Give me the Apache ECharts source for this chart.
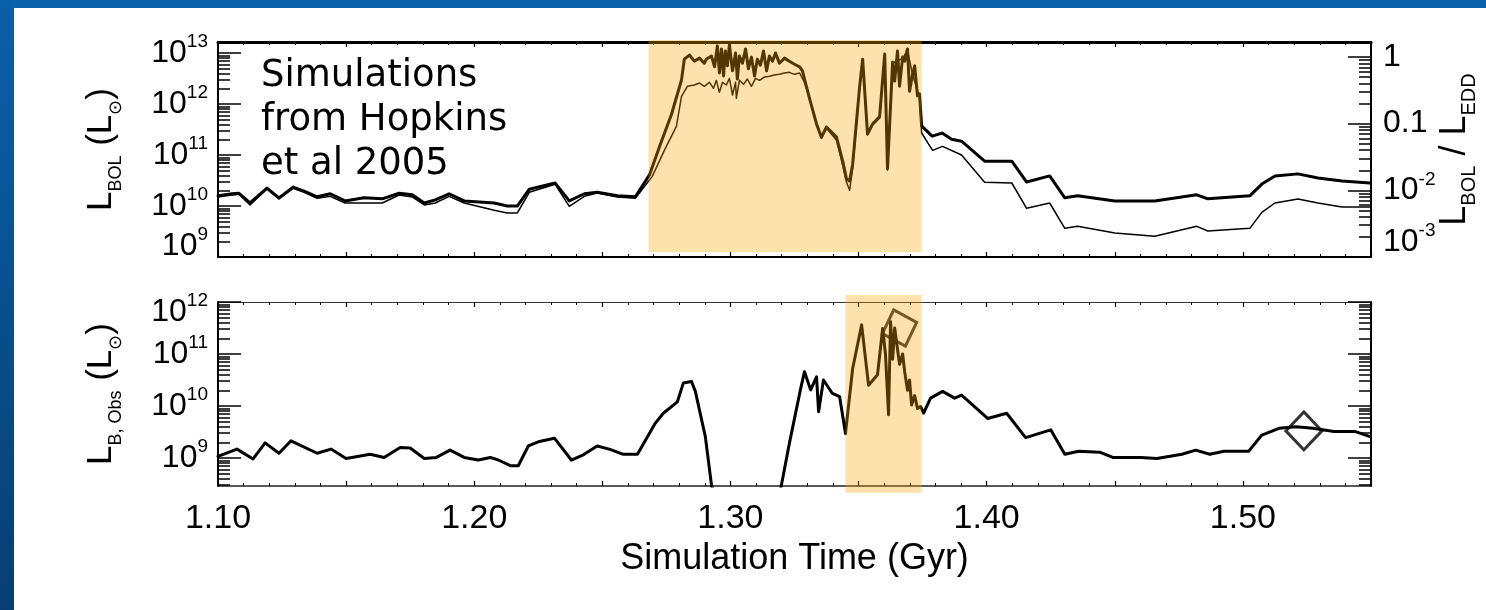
<!DOCTYPE html>
<html>
<head>
<meta charset="utf-8">
<script src="https://cdn.jsdelivr.net/npm/echarts@6/dist/echarts.min.js"></script>
<style>
  html, body { margin: 0; padding: 0; background: #fff; }
  #chart { width: 1486px; height: 610px; }
</style>
</head>
<body>
<div id="chart"></div>
<script>
// Luminosity histories of the merger simulation, stored as log10 values.

// Bolometric luminosity L_BOL (L_sun), thick curve, left axis of the upper panel
const lbolTime = [
  1.1000,1.1055,1.1082,1.1125,1.1191,1.1238,1.1293,1.1336,1.1387,1.1438,
  1.1496,1.1570,1.1641,1.1707,1.1758,1.1805,1.1848,1.1902,1.1961,1.2078,
  1.2129,1.2168,1.2215,1.2316,1.2371,1.2430,1.2480,1.2559,1.2629,1.2684,
  1.2723,1.2770,1.2809,1.2820,1.2840,1.2859,1.2879,1.2898,1.2906,1.2926,
  1.2938,1.2949,1.2957,1.2965,1.2973,1.2980,1.2988,1.2996,1.3008,1.3020,
  1.3027,1.3035,1.3047,1.3059,1.3070,1.3082,1.3094,1.3105,1.3117,1.3129,
  1.3141,1.3152,1.3164,1.3176,1.3191,1.3211,1.3230,1.3250,1.3270,1.3281,
  1.3293,1.3309,1.3336,1.3355,1.3375,1.3414,1.3438,1.3453,1.3465,1.3477,
  1.3504,1.3516,1.3535,1.3555,1.3582,1.3602,1.3613,1.3633,1.3641,1.3652,
  1.3660,1.3672,1.3680,1.3691,1.3699,1.3711,1.3719,1.3730,1.3738,1.3746,
  1.3787,1.3826,1.3863,1.3902,1.3992,1.4098,1.4156,1.4246,1.4305,1.4355,
  1.4500,1.4656,1.4820,1.4863,1.5027,1.5074,1.5125,1.5215,1.5293,1.5387,
  1.5496
];
const lbolLog = [
  10.20,10.24,10.25,10.06,10.35,10.16,10.37,10.29,10.18,10.24,
  10.10,10.16,10.14,10.25,10.22,10.06,10.12,10.24,10.10,10.06,
  10.00,10.00,10.33,10.45,10.10,10.24,10.27,10.20,10.18,10.61,
  11.16,11.80,12.47,12.88,12.96,12.84,12.90,12.80,12.88,12.94,
  12.73,13.14,12.61,13.08,12.55,13.04,12.75,13.16,12.65,13.00,
  12.49,12.94,12.80,13.08,12.69,12.92,12.55,12.88,12.76,13.04,
  12.65,12.94,12.84,13.00,12.80,12.90,12.84,12.78,12.73,12.65,
  12.41,12.10,11.61,11.35,11.55,11.35,10.88,10.53,10.49,10.82,
  12.33,12.88,11.41,11.61,11.75,12.98,10.73,12.82,12.45,13.04,
  12.35,12.92,12.84,13.08,12.25,12.59,12.75,12.16,12.20,11.57,
  11.37,11.43,11.31,11.27,10.88,10.88,10.47,10.59,10.16,10.20,
  10.10,10.10,10.22,10.14,10.20,10.43,10.59,10.63,10.55,10.49,
  10.45
];

// Eddington ratio L_BOL / L_EDD, thin curve, right axis of the upper panel
const eddTime = [
  1.1000,1.1055,1.1082,1.1125,1.1191,1.1238,1.1293,1.1336,1.1387,1.1438,
  1.1496,1.1570,1.1641,1.1707,1.1758,1.1805,1.1848,1.1902,1.1961,1.2078,
  1.2129,1.2168,1.2215,1.2316,1.2371,1.2430,1.2480,1.2559,1.2629,1.2695,
  1.2742,1.2789,1.2809,1.2832,1.2859,1.2879,1.2898,1.2918,1.2934,1.2945,
  1.2957,1.2969,1.2984,1.2996,1.3008,1.3020,1.3023,1.3035,1.3051,1.3066,
  1.3082,1.3098,1.3113,1.3133,1.3152,1.3172,1.3191,1.3211,1.3230,1.3250,
  1.3270,1.3289,1.3309,1.3336,1.3355,1.3375,1.3414,1.3438,1.3453,1.3465,
  1.3477,1.3504,1.3516,1.3535,1.3555,1.3582,1.3602,1.3613,1.3633,1.3672,
  1.3691,1.3711,1.3738,1.3746,1.3789,1.3828,1.3902,1.3992,1.4098,1.4156,
  1.4246,1.4305,1.4355,1.4500,1.4656,1.4820,1.4863,1.5027,1.5074,1.5125,
  1.5215,1.5293,1.5387,1.5496
];
const eddLog = [
  -2.10,-2.07,-2.06,-2.22,-1.98,-2.13,-1.97,-2.03,-2.12,-2.09,
  -2.19,-2.19,-2.19,-2.07,-2.10,-2.22,-2.19,-2.09,-2.19,-2.30,
  -2.34,-2.34,-2.03,-1.91,-2.24,-2.09,-2.04,-2.10,-2.12,-1.79,
  -1.40,-1.04,-0.59,-0.44,-0.42,-0.39,-0.44,-0.38,-0.47,-0.35,
  -0.53,-0.38,-0.42,-0.32,-0.57,-0.38,-0.62,-0.35,-0.41,-0.33,
  -0.44,-0.32,-0.35,-0.30,-0.29,-0.27,-0.26,-0.24,-0.23,-0.26,
  -0.24,-0.38,-0.62,-1.02,-1.22,-1.07,-1.25,-1.62,-1.88,-2.00,
  -1.67,-0.47,-0.05,-1.17,-1.02,-0.92, 0.03,-1.70,-0.09,-0.02,
   0.10,-0.27,-0.60,-1.14,-1.40,-1.34,-1.47,-1.88,-1.89,-2.27,
  -2.19,-2.57,-2.54,-2.64,-2.69,-2.54,-2.61,-2.57,-2.33,-2.19,
  -2.13,-2.19,-2.25,-2.25
];

// Observed B-band luminosity L_B,Obs (L_sun), lower panel
const obsTime = [
  1.1000,1.1074,1.1137,1.1184,1.1238,1.1285,1.1387,1.1441,1.1500,1.1594,
  1.1648,1.1711,1.1750,1.1805,1.1852,1.1906,1.1961,1.2016,1.2063,1.2094,
  1.2141,1.2172,1.2211,1.2250,1.2313,1.2379,1.2426,1.2480,1.2527,1.2582,
  1.2637,1.2707,1.2738,1.2793,1.2816,1.2848,1.2863,1.2902,1.2926,1.2950,
  1.3180,1.3199,1.3230,1.3273,1.3289,1.3313,1.3336,1.3344,1.3363,1.3398,
  1.3426,1.3449,1.3477,1.3512,1.3539,1.3574,1.3594,1.3605,1.3617,1.3625,
  1.3633,1.3641,1.3648,1.3660,1.3672,1.3680,1.3691,1.3699,1.3707,1.3719,
  1.3730,1.3742,1.3754,1.3781,1.3828,1.3875,1.3902,1.4004,1.4078,1.4152,
  1.4250,1.4305,1.4359,1.4441,1.4492,1.4602,1.4664,1.4762,1.4816,1.4871,
  1.4926,1.5023,1.5074,1.5141,1.5207,1.5273,1.5355,1.5437,1.5496
];
const obsLog = [
  9.03, 9.17, 8.98, 9.29, 9.09, 9.33, 9.09, 9.17, 8.99, 9.07,
  9.01, 9.20, 9.19, 8.99, 9.01, 9.15, 9.01, 8.96, 9.01, 8.96,
  8.85, 8.85, 9.23, 9.31, 9.38, 8.96, 9.06, 9.23, 9.17, 9.07,
  9.07, 9.67, 9.86,10.08,10.44,10.47,10.28, 9.41, 8.48, 8.00,
  8.00, 8.48, 9.28,10.31,10.66,10.31,10.56, 9.89,10.50,10.24,
  10.18, 9.47,10.72,11.56,10.40,10.60,11.49,11.00, 9.83,11.62,
  10.90,11.50,11.24,10.80,11.00,10.66,10.30,10.50,10.02,10.20,
  9.95, 9.99, 9.86,10.15,10.28,10.15,10.21, 9.76, 9.86, 9.39,
  9.54, 9.07, 9.13, 9.11, 9.01, 9.01, 8.99, 9.07, 9.15, 9.07,
  9.13, 9.13, 9.44, 9.57, 9.60, 9.57, 9.51, 9.51, 9.41
];

// Diamond markers on the observed curve
const markerTime = [1.3660, 1.5238];
const markerLog = [11.50, 9.52];

// Highlighted quasar phases: [start, end] time and [low, high] log10 extent
const quasarSpanTop = [1.2680, 1.3746];
const quasarLogTop = [9.10, 13.255];
const quasarSpanBottom = [1.3449, 1.3746];
const quasarLogBottom = [8.33, 12.135];

// Axis extents (log10) and labelled decades
const timeRange = [1.10, 1.55];
const timeLabels = [1.10, 1.20, 1.30, 1.40, 1.50];
const lbolRange = [9, 13.216];
const eddRange = [-3, 0.225];
const obsRange = [8.46, 12];
const lbolDecades = [9, 10, 11, 12, 13];
const eddDecades = [-3, -2, -1, 0];
const obsDecades = [9, 10, 11, 12];

const FONT = "'Liberation Sans', Arial, Helvetica, sans-serif";
const pow10 = v => Math.pow(10, v);
const pairs = (ts, logs) => ts.map((t, i) => [t, pow10(logs[i])]);

function minorValues(lo, hi) {
  const out = [];
  for (let e = Math.floor(lo); e <= Math.ceil(hi); e++) {
    for (let k = 2; k <= 9; k++) {
      const lv = e + Math.log10(k);
      if (lv > lo && lv < hi) out.push(k * pow10(e));
    }
  }
  return out;
}

const base = { fontFamily: FONT, color: '#000' };
const labelRich = {
  b:   Object.assign({ fontSize: 32 }, base),
  s:   Object.assign({ fontSize: 19, padding: [0, 0, 22, 0] }, base),
  bu:  Object.assign({ fontSize: 32, padding: [0, 0, 22, 0] }, base),
  su:  Object.assign({ fontSize: 19, padding: [0, 0, 44, 0] }, base),
  bu2: Object.assign({ fontSize: 32, padding: [0, 0, 30, 0] }, base),
  su2: Object.assign({ fontSize: 19, padding: [0, 0, 52, 0] }, base),
  bd:  Object.assign({ fontSize: 32, padding: [20, 0, 0, 0] }, base),
  sd:  Object.assign({ fontSize: 19, padding: [20, 0, 22, 0] }, base)
};
const expOf = v => Math.round(Math.log10(v));
function powerLabel(v, bStyle, sStyle) {
  return '{' + bStyle + '|10}{' + sStyle + '|' + expOf(v) + '}';
}

const nameRich = {
  L:  Object.assign({ fontSize: 35 }, base),
  sub: Object.assign({ fontSize: 18, padding: [30, 0, 0, 0] }, base)
};
const nameRichRight = {
  L:  Object.assign({ fontSize: 36 }, base),
  sub: Object.assign({ fontSize: 20, padding: [28, 0, 0, 0] }, base)
};

function xAxisCfg(gridIndex, position, lineWidth, lineColor, withLabels) {
  const cfg = {
    type: 'value', gridIndex, position,
    min: timeRange[0], max: timeRange[1], interval: 0.05,
    axisLine: { show: true, onZero: false, lineStyle: { color: lineColor, width: lineWidth } },
    axisTick: { show: true, inside: true, length: 5, lineStyle: { color: '#000', width: 1.2 } },
    minorTick: { show: true, splitNumber: 5, length: 3, lineStyle: { color: '#000', width: 1 } },
    splitLine: { show: false },
    minorSplitLine: { show: false },
    axisLabel: { show: false }
  };
  if (withLabels) {
    cfg.axisLabel = {
      show: true, customValues: timeLabels, margin: 16,
      formatter: v => v.toFixed(2),
      fontFamily: FONT, fontSize: 34, color: '#000'
    };
    cfg.name = 'Simulation Time (Gyr)';
    cfg.nameLocation = 'middle';
    cfg.nameGap = 55;
    cfg.nameTextStyle = { fontFamily: FONT, fontSize: 36, color: '#000' };
  }
  return cfg;
}

function yLog(gridIndex, position, range, ticks, tickLen, showLine, label) {
  const cfg = {
    type: 'log', logBase: 10, gridIndex, position,
    min: pow10(range[0] - 1e-6), max: pow10(range[1] + 1e-6),
    axisLine: { show: showLine, onZero: false, lineStyle: { color: '#000', width: 2 } },
    axisTick: { show: true, inside: true, length: tickLen, customValues: ticks,
                lineStyle: { color: '#000', width: 1.5 } },
    minorTick: { show: false },
    splitLine: { show: false },
    axisLabel: { show: false }
  };
  if (label) cfg.axisLabel = label;
  return cfg;
}

const lbolMajor = lbolDecades.map(pow10);
const eddMajor = eddDecades.map(pow10);
const obsMajor = obsDecades.map(pow10);

const option = {
  animation: false,
  backgroundColor: '#fff',
  graphic: [
    { type: 'rect', shape: { x: 0, y: 0, width: 1486, height: 8 }, style: { fill: '#0a62ac' }, z: -10 },
    { type: 'rect', shape: { x: 0, y: 0, width: 14, height: 610 }, z: -10,
      style: { fill: { type: 'linear', x: 0, y: 0, x2: 0, y2: 1,
        colorStops: [{ offset: 0, color: '#0b60aa' }, { offset: 1, color: '#063f73' }] } } },
    { type: 'text', left: 261, top: 54, z: 50,
      style: { text: 'Simulations\nfrom Hopkins\net al 2005', fontFamily: "'DejaVu Sans', Verdana, sans-serif",
               fontSize: 37, lineHeight: 44, fill: '#000' } }
  ],
  grid: [
    { left: 218, top: 42, width: 1153, height: 215, outerBoundsMode: 'none', containLabel: false },
    { left: 218, top: 302, width: 1153, height: 184, outerBoundsMode: 'none', containLabel: false }
  ],
  xAxis: [
    xAxisCfg(0, 'bottom', 2, '#000', false),
    xAxisCfg(0, 'top', 3, '#000', false),
    xAxisCfg(1, 'bottom', 1.5, '#222', true),
    xAxisCfg(1, 'top', 1.2, '#333', false)
  ],
  yAxis: [
    // upper panel, left: L_BOL
    Object.assign(yLog(0, 'left', lbolRange, lbolMajor, 23, true, {
      show: true, customValues: lbolMajor, margin: 10, rich: labelRich,
      formatter: v => expOf(v) === lbolDecades[0] ? powerLabel(v, 'bu', 'su') : powerLabel(v, 'b', 's')
    }), {
      name: '{L|L}{sub|BOL}{L| (L}{sub|\u2299}{L|)}',
      nameLocation: 'middle', nameRotate: 90, nameGap: 93, nameMoveOverlap: false,
      nameTextStyle: { rich: nameRich }
    }),
    yLog(0, 'left', lbolRange, minorValues(lbolRange[0], lbolRange[1]), 12, false, null),
    // upper panel, right: L_BOL / L_EDD
    Object.assign(yLog(0, 'right', eddRange, eddMajor, 23, true, {
      show: true, customValues: eddMajor, margin: 12, rich: labelRich,
      formatter: v => {
        const e = expOf(v);
        if (e === 0) return '{b|1}';
        if (e === -1) return '{b|0.1}';
        return e === eddDecades[0] ? powerLabel(v, 'bu2', 'su2') : powerLabel(v, 'b', 's');
      }
    }), {
      name: '{L|L}{sub|BOL}{L| / L}{sub|EDD}',
      nameLocation: 'middle', nameRotate: 90, nameGap: 60, nameMoveOverlap: false,
      nameTextStyle: { rich: nameRichRight }
    }),
    yLog(0, 'right', eddRange, minorValues(eddRange[0], eddRange[1]), 12, false, null),
    // lower panel, left: L_B,Obs
    Object.assign(yLog(1, 'left', obsRange, obsMajor, 23, true, {
      show: true, customValues: obsMajor, margin: 10, rich: labelRich,
      formatter: v => expOf(v) === obsDecades[obsDecades.length - 1] ? powerLabel(v, 'bd', 'sd') : powerLabel(v, 'b', 's')
    }), {
      name: '{L|L}{sub|B, Obs}{L| (L}{sub|\u2299}{L|)}',
      nameLocation: 'middle', nameRotate: 90, nameGap: 93, nameMoveOverlap: false,
      nameTextStyle: { rich: nameRich }
    }),
    yLog(1, 'left', obsRange, minorValues(obsRange[0], obsRange[1]), 12, false, null),
    yLog(1, 'right', obsRange, obsMajor, 23, true, null),
    yLog(1, 'right', obsRange, minorValues(obsRange[0], obsRange[1]), 12, false, null)
  ],
  series: [
    {
      name: 'L_BOL', type: 'line', xAxisIndex: 0, yAxisIndex: 0,
      data: pairs(lbolTime, lbolLog), symbol: 'none', z: 3,
      lineStyle: { color: '#000', width: 3, join: 'round', cap: 'round' }
    },
    {
      name: 'L_BOL / L_EDD', type: 'line', xAxisIndex: 0, yAxisIndex: 2,
      data: pairs(eddTime, eddLog), symbol: 'none', z: 3,
      lineStyle: { color: '#000', width: 1.5, join: 'round' }
    },
    {
      name: 'L_B,Obs', type: 'line', xAxisIndex: 2, yAxisIndex: 4,
      data: pairs(obsTime, obsLog), symbol: 'none', z: 3,
      lineStyle: { color: '#000', width: 3, join: 'round', cap: 'round' }
    },
    {
      name: 'markers', type: 'scatter', xAxisIndex: 2, yAxisIndex: 4,
      data: pairs(markerTime, markerLog), symbol: 'diamond', symbolSize: [36, 38],
      symbolRotate: (val, params) => (params.dataIndex === 0 ? 18 : 0),
      itemStyle: { color: 'rgba(0,0,0,0)', borderColor: '#000', borderWidth: 3 }, z: 4
    },
    {
      name: 'quasar phase', type: 'custom', xAxisIndex: 0, yAxisIndex: 0, z: 20, silent: true, clip: false,
      data: [[quasarSpanTop[0], pow10(quasarLogTop[1]), quasarSpanTop[1], pow10(quasarLogTop[0])]],
      encode: { x: [0, 2], y: [1, 3] },
      renderItem: (params, api) => {
        const p0 = api.coord([api.value(0), api.value(1)]);
        const p1 = api.coord([api.value(2), api.value(3)]);
        return { type: 'rect', shape: { x: p0[0], y: p0[1], width: p1[0] - p0[0], height: p1[1] - p0[1] },
                 style: { fill: 'rgba(250,168,0,0.33)' } };
      }
    },
    {
      name: 'quasar phase observed', type: 'custom', xAxisIndex: 2, yAxisIndex: 4, z: 20, silent: true, clip: false,
      data: [[quasarSpanBottom[0], pow10(quasarLogBottom[1]), quasarSpanBottom[1], pow10(quasarLogBottom[0])]],
      encode: { x: [0, 2], y: [1, 3] },
      renderItem: (params, api) => {
        const p0 = api.coord([api.value(0), api.value(1)]);
        const p1 = api.coord([api.value(2), api.value(3)]);
        return { type: 'rect', shape: { x: p0[0], y: p0[1], width: p1[0] - p0[0], height: p1[1] - p0[1] },
                 style: { fill: 'rgba(250,168,0,0.33)' } };
      }
    }
  ]
};

const chart = echarts.init(document.getElementById('chart'), null, { renderer: 'canvas' });
chart.setOption(option);
</script>
</body>
</html>
